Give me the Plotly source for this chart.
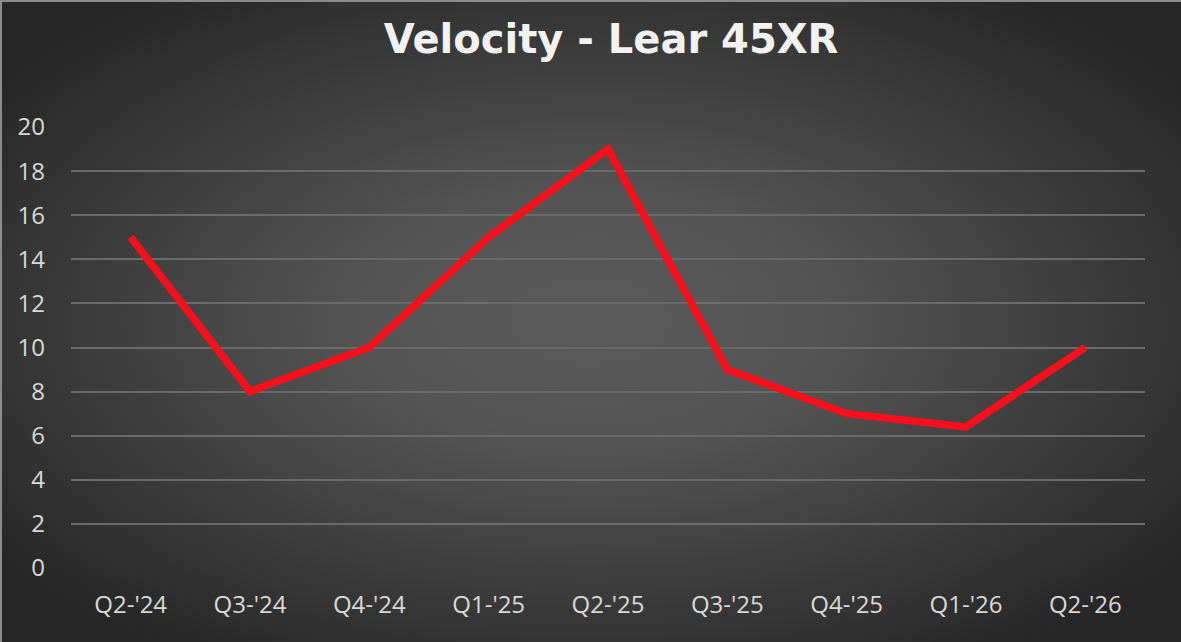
import base64

import plotly.graph_objects as go

quarters = ["Q2-'24", "Q3-'24", "Q4-'24", "Q1-'25", "Q2-'25", "Q3-'25", "Q4-'25", "Q1-'26", "Q2-'26"]
velocity = [15, 8, 10, 15, 19, 9, 7, 6.4, 10]
y_ticks = [0, 2, 4, 6, 8, 10, 12, 14, 16, 18, 20]

WIDTH, HEIGHT = 1181, 642
MARGIN = {"l": 71, "r": 36, "t": 127, "b": 74}
TICK_COLOR = "#d9d9d9"
GRID_COLOR = "#6a6a6a"
LINE_COLOR = "#ff0d1a"

# Excel-style radial gradient behind the whole chart.
_svg = (
    '<svg xmlns="http://www.w3.org/2000/svg" width="1181" height="642">'
    '<defs><radialGradient id="g" cx="50%" cy="50%" r="62%">'
    '<stop offset="0" stop-color="#5a5a5a"/>'
    '<stop offset="0.3" stop-color="#555555"/>'
    '<stop offset="1" stop-color="#272727"/>'
    "</radialGradient></defs>"
    '<rect width="1181" height="642" fill="url(#g)"/>'
    "</svg>"
)
background = "data:image/svg+xml;base64," + base64.b64encode(_svg.encode()).decode()

plot_w = WIDTH - MARGIN["l"] - MARGIN["r"]
plot_h = HEIGHT - MARGIN["t"] - MARGIN["b"]

fig = go.Figure(
    go.Scatter(
        x=list(range(len(quarters))),
        y=velocity,
        mode="lines",
        line={"color": LINE_COLOR, "width": 7.5},
        hovertemplate="%{text}: %{y}<extra></extra>",
        text=quarters,
    )
)

fig.update_layout(
    width=WIDTH,
    height=HEIGHT,
    margin=MARGIN,
    paper_bgcolor="#2b2b2b",
    plot_bgcolor="rgba(0,0,0,0)",
    showlegend=False,
    font={"family": "Open Sans", "color": TICK_COLOR},
    title={
        "text": "<b>Velocity - Lear 45XR</b>",
        "font": {"family": "DejaVu Sans", "size": 40, "color": "#f2f2f2"},
        "x": 611 / WIDTH,
        "xanchor": "center",
        "y": 1 - 39 / HEIGHT,
        "yanchor": "middle",
        "yref": "container",
    },
    images=[
        {
            "source": background,
            "xref": "paper",
            "yref": "paper",
            "x": -MARGIN["l"] / plot_w,
            "y": 1 + MARGIN["t"] / plot_h,
            "sizex": WIDTH / plot_w,
            "sizey": HEIGHT / plot_h,
            "sizing": "stretch",
            "xanchor": "left",
            "yanchor": "top",
            "layer": "below",
        }
    ],
    shapes=[
        {
            "type": "line",
            "xref": "paper",
            "yref": "paper",
            "x0": -MARGIN["l"] / plot_w,
            "x1": 1 + MARGIN["r"] / plot_w,
            "y0": 1 + (MARGIN["t"] - 1) / plot_h,
            "y1": 1 + (MARGIN["t"] - 1) / plot_h,
            "line": {"color": "#8c8c8c", "width": 2},
        },
        {
            "type": "line",
            "xref": "paper",
            "yref": "paper",
            "x0": -(MARGIN["l"] - 1) / plot_w,
            "x1": -(MARGIN["l"] - 1) / plot_w,
            "y0": -MARGIN["b"] / plot_h,
            "y1": 1 + MARGIN["t"] / plot_h,
            "line": {"color": "#8c8c8c", "width": 2},
        },
    ],
)

fig.update_xaxes(
    range=[-0.5, len(quarters) - 0.5],
    tickvals=list(range(len(quarters))),
    ticktext=quarters,
    tickfont={"size": 24, "color": TICK_COLOR},
    showgrid=False,
    zeroline=False,
    showline=False,
    ticks="",
    ticklabelstandoff=20,
    fixedrange=True,
)
fig.update_yaxes(
    range=[0, 20],
    tickvals=y_ticks,
    tickfont={"size": 24, "color": TICK_COLOR},
    showgrid=True,
    gridcolor=GRID_COLOR,
    gridwidth=1.5,
    zeroline=False,
    showline=False,
    ticks="",
    ticklabelstandoff=25,
    fixedrange=True,
)

# the page's default body margin would push the chart 8px off the window
fig.write_html(
    "out.html",
    config={"displayModeBar": False},
    post_script="document.body.style.margin='0';document.body.style.overflow='hidden';",
)
